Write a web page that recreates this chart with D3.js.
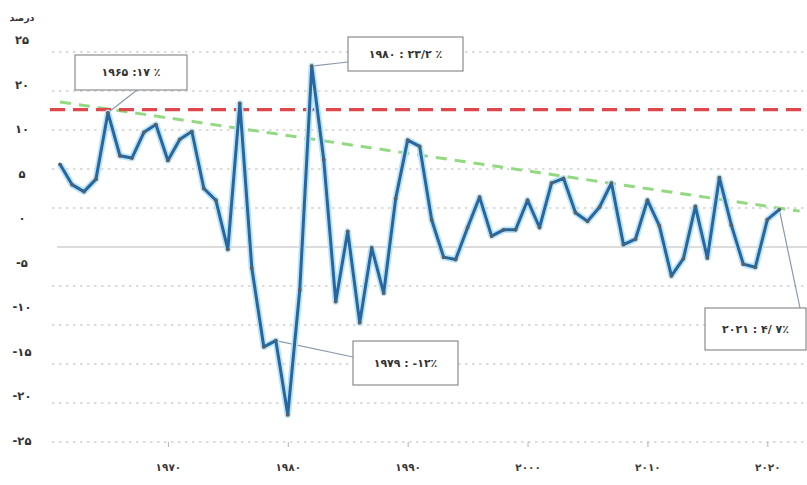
<!DOCTYPE html>
<html><head><meta charset="utf-8">
<script src="https://cdn.jsdelivr.net/npm/d3@7/dist/d3.min.js"></script>
<style>body{margin:0;background:#fff;overflow:hidden} text{unicode-bidi:bidi-override;direction:ltr}</style>
</head><body>
<svg id="chart" width="807" height="485"></svg>
<script>
// ---- data ----
const years = [1961,1962,1963,1964,1965,1966,1967,1968,1969,1970,
  1971,1972,1973,1974,1975,1976,1977,1978,1979,1980,
  1981,1982,1983,1984,1985,1986,1987,1988,1989,1990,
  1991,1992,1993,1994,1995,1996,1997,1998,1999,2000,
  2001,2002,2003,2004,2005,2006,2007,2008,2009,2010,
  2011,2012,2013,2014,2015,2016,2017,2018,2019,2020,2021];
const growth = [10.6,8.0,7.1,8.7,17.2,11.7,11.4,14.7,15.7,11.1,
  13.8,14.8,7.5,6.0,-0.3,18.4,-2.7,-12.8,-12.0,-21.5,
  -5.5,23.2,11.2,-7.0,2.0,-9.7,-0.1,-5.9,6.2,13.7,
  12.9,3.5,-1.3,-1.6,2.5,6.4,1.4,2.2,2.2,6.0,
  2.5,8.2,8.8,4.4,3.3,5.1,8.2,0.3,1.0,6.0,
  2.7,-3.7,-1.5,5.2,-1.4,8.9,2.8,-2.2,-2.6,3.5,4.8];
const gridValues = [25,20,15,10,5,0,-5,-10,-15,-20,-25];
const yTickLabels = ["۲۵","۲۰","۱۰","۵","۰","-۵","-۱۰","-۱۵","-۲۰","-۲۵"];
const xTickYears = [1970,1980,1990,2000,2010,2020];
const xTickLabels = ["۱۹۷۰","۱۹۸۰","۱۹۹۰","۲۰۰۰","۲۰۱۰","۲۰۲۰"];
const refLevel = 17.6;
const trendYears = [1961, 2022.7];
const trendValues = [18.6, 4.6];
const annotYears = [1965, 1982, 1979, 2021];
const annotTexts = ["۱۹۶۵ :۱۷ ٪", "۱۹۸۰ : ۲۳/۲ ٪", "۱۹۷۹ : -۱۲٪", "۲۰۲۱ : ۴/ ۷٪"];
const unitLabel = "درصد";

// ---- layout ----
const boxes = [
  {x0:75, y0:55, x1:187, y1:90, ax:137, ay:90},
  {x0:348, y0:37, x1:463, y1:71, ax:348, ay:62},
  {x0:353, y0:341, x1:458, y1:385, ax:353, ay:357},
  {x0:705, y0:308, x1:806, y1:350, ax:800, ay:308}
];
const svg = d3.select("#chart");
const x = d3.scaleLinear().domain([1961, 2021]).range([60, 779.3]);
const y = d3.scaleLinear().domain([-25, 25]).range([442, 52]);
const yLab = d3.scalePoint().domain(yTickLabels).range([40, 441]);
const font = "'DejaVu Sans', 'Noto Sans', sans-serif";

// grid
svg.append("g").selectAll("line").data(gridValues.filter(v => v !== 0)).join("line")
  .attr("x1", 52).attr("x2", 807)
  .attr("y1", d => y(d)).attr("y2", d => y(d))
  .attr("stroke", "#cfcfcf").attr("stroke-width", 1.6)
  .attr("stroke-dasharray", "2.5,4.5");
svg.append("line").attr("x1", 57).attr("x2", 807)
  .attr("y1", y(0)).attr("y2", y(0))
  .attr("stroke", "#dcdcdc").attr("stroke-width", 2);

// x axis
const xAxis = svg.append("g").attr("transform", `translate(0,${y(-25)})`)
  .call(d3.axisBottom(x).tickValues(xTickYears)
    .tickFormat((d, i) => xTickLabels[i]).tickSize(5).tickPadding(17));
xAxis.select(".domain").remove();
xAxis.selectAll(".tick line").attr("stroke", "#b0b0b0");
xAxis.selectAll(".tick text").attr("fill", "#3a3a3a")
  .attr("font-family", font).attr("font-size", 10.5).attr("font-weight", "bold");

// y labels
svg.append("g").selectAll("text").data(yTickLabels).join("text")
  .attr("x", 22).attr("y", d => yLab(d))
  .attr("text-anchor", "middle").attr("dominant-baseline", "central")
  .attr("fill", "#333").attr("font-family", font)
  .attr("font-size", 11.5).attr("font-weight", "bold")
  .text(d => d);
svg.append("text").attr("x", 22).attr("y", 17)
  .attr("text-anchor", "middle").attr("dominant-baseline", "central")
  .attr("fill", "#333").attr("font-family", font)
  .attr("font-size", 9.5).attr("font-weight", "bold")
  .style("unicode-bidi", "normal").style("direction", "rtl")
  .text(unitLabel);

// trend (green dashed)
svg.append("line")
  .attr("x1", x(trendYears[0])).attr("y1", y(trendValues[0]))
  .attr("x2", x(trendYears[1])).attr("y2", y(trendValues[1]))
  .attr("stroke", "#93d982").attr("stroke-width", 3)
  .attr("stroke-dasharray", "11,8");
// reference (red dashed)
svg.append("line").attr("x1", 50).attr("x2", 807)
  .attr("y1", y(refLevel)).attr("y2", y(refLevel))
  .attr("stroke", "#e0474c").attr("stroke-width", 3.2)
  .attr("stroke-dasharray", "15,8");

// leaders
const pts = years.map((yr, i) => [yr, growth[i]]);
annotYears.forEach((yr, i) => {
  const v = growth[years.indexOf(yr)];
  const b = boxes[i];
  svg.append("line").attr("x1", x(yr)).attr("y1", y(v))
    .attr("x2", b.ax).attr("y2", b.ay)
    .attr("stroke", "#8a9aaa").attr("stroke-width", 1.2);
});

// series line
const line = d3.line().x(d => x(d[0])).y(d => y(d[1]));
svg.append("path").datum(pts).attr("d", line)
  .attr("fill", "none").attr("stroke", "#b8e4f6").attr("stroke-width", 6.5)
  .attr("stroke-linejoin", "round");
svg.append("path").datum(pts).attr("d", line)
  .attr("fill", "none").attr("stroke", "#2866a0").attr("stroke-width", 3)
  .attr("stroke-linejoin", "round");
svg.append("g").selectAll("circle").data(pts).join("circle")
  .attr("cx", d => x(d[0])).attr("cy", d => y(d[1])).attr("r", 1.9)
  .attr("fill", "#56606a");

// annotation boxes
annotTexts.forEach((t, i) => {
  const b = boxes[i];
  svg.append("rect").attr("x", b.x0).attr("y", b.y0)
    .attr("width", b.x1 - b.x0).attr("height", b.y1 - b.y0)
    .attr("fill", "#fff").attr("stroke", "#8c8c8c").attr("stroke-width", 1.2);
  svg.append("text").attr("x", (b.x0 + b.x1) / 2).attr("y", (b.y0 + b.y1) / 2)
    .attr("text-anchor", "middle").attr("dominant-baseline", "central")
    .attr("fill", "#333").attr("font-family", font)
    .attr("font-size", 11).attr("font-weight", "bold").text(t);
});
</script>
</body></html>
